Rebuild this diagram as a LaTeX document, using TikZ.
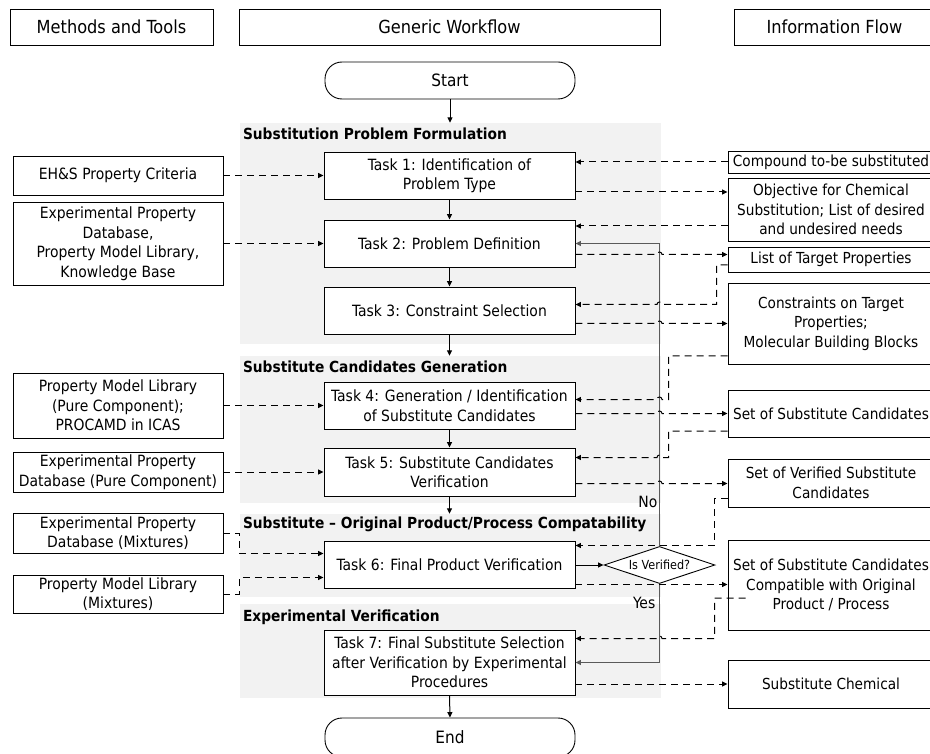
\documentclass[tikz,border=0pt]{standalone}
\usepackage{fontspec}
\setmainfont{DejaVu Sans Condensed}
\usetikzlibrary{shapes.geometric,arrows.meta,calc}

\definecolor{panelgray}{RGB}{242,242,242}
\definecolor{loopgray}{RGB}{90,90,90}

\tikzset{
  box/.style={draw=black, line width=0.9pt, fill=white, align=center, inner sep=0pt,
    font=\fontsize{15.5}{19.5}\selectfont},
  hdr/.style={box, font=\fontsize{18}{21}\selectfont},
  terminal/.style={draw=black, line width=0.9pt, fill=white, rounded corners=17pt,
    minimum width=250pt, minimum height=37pt, inner sep=0pt, font=\fontsize{17}{20}\selectfont},
  panel/.style={fill=panelgray, draw=none, inner sep=0pt, minimum width=421pt},
  seclabel/.style={inner sep=0pt, anchor=west, font=\bfseries\fontsize{15.3}{18}\selectfont},
  decision/.style={diamond, draw=black, line width=0.9pt, fill=white, aspect=3, inner sep=0pt,
    minimum width=111pt, minimum height=37pt, font=\fontsize{12.5}{14}\selectfont},
  branch/.style={inner sep=0pt, anchor=east, font=\fontsize{15.5}{17}\selectfont},
  tip/.style={-{Triangle[length=5.5pt,width=5pt]}},
  seq/.style={tip, line width=1pt},
  flow/.style={tip, line width=1pt, dash pattern=on 7pt off 5pt},
  loopline/.style={tip, line width=1.2pt, draw=loopgray},
  task/.style={box, minimum width=251pt, minimum height=47pt},
  tool/.style={box, minimum width=210pt},
  info/.style={box, minimum width=206pt, font=\fontsize{15.2}{19.5}\selectfont},
}

\begin{document}
\begin{tikzpicture}[x=1pt, y=-1pt]
\useasboundingbox (0,0) rectangle (930,754);
\clip (0,0) rectangle (930,754);

% column headers
\node[hdr, minimum width=203pt, minimum height=36pt] (hm) at (111.5,27) {Methods and Tools};
\node[hdr, minimum width=421pt, minimum height=36pt] (hg) at (449.5,27) {Generic Workflow};
\node[hdr, minimum width=201pt, minimum height=36pt] (hi) at (834.5,27) {Information Flow};

% grey stage panels
\node[panel, minimum height=221pt] (p1) at (450.5,233.5) {};
\node[panel, minimum height=147pt] (p2) at (450.5,429.5) {};
\node[panel, minimum height=83pt]  (p3) at (450.5,555.5) {};
\node[panel, minimum height=94pt]  (p4) at (450.5,651) {};
\node[seclabel] (p1l) at ($(p1.north west)+(3,11)$) {Substitution Problem Formulation};
\node[seclabel] (p2l) at ($(p2.north west)+(3,11)$) {Substitute Candidates Generation};
\node[seclabel] (p3l) at ($(p3.north west)+(3,11)$) {Substitute – Original Product/Process Compatability};
\node[seclabel] (p4l) at ($(p4.north west)+(3,13)$) {Experimental Verification};

% workflow
\node[terminal] (start) at (450,80.5) {Start};
\node[task] (t1) at (449.5,175.5) {Task 1: Identification of\\Problem Type};
\node[task] (t2) at (449.5,243.5) {Task 2: Problem Definition};
\node[task] (t3) at (449.5,310.5) {Task 3: Constraint Selection};
\node[task] (t4) at (449.5,405.5) {Task 4: Generation / Identification\\of Substitute Candidates};
\node[task, minimum height=48pt] (t5) at (449.5,472) {Task 5: Substitute Candidates\\Verification};
\node[task] (t6) at (449.5,565) {Task 6: Final Product Verification};
\node[task, minimum height=65pt] (t7) at (449.5,662.5) {Task 7: Final Substitute Selection\\after Verification by Experimental\\Procedures};
\node[terminal, minimum height=39pt] (end) at (450,737.5) {End};
\node[decision] (dec) at (659.5,565) {Is Verified?};

% methods and tools
\node[tool, minimum height=39pt] (m1) at (118,175.5) {EH\&S Property Criteria};
\node[tool, minimum height=83pt] (m2) at (118,243.5) {Experimental Property\\Database,\\Property Model Library,\\Knowledge Base};
\node[tool, minimum height=65pt] (m3) at (118,405.5) {Property Model Library\\(Pure Component);\\PROCAMD in ICAS};
\node[tool, minimum height=40pt] (m4) at (118,472) {Experimental Property\\Database (Pure Component)};
\node[tool, minimum height=40pt] (m5) at (118,533) {Experimental Property\\Database (Mixtures)};
\node[tool, minimum height=38pt] (m6) at (118,594) {Property Model Library\\(Mixtures)};

% information flow
\node[info, minimum height=22pt] (i1) at (831,162) {Compound to-be substituted};
\node[info, minimum height=63pt] (i2) at (831,209.5) {Objective for Chemical\\Substitution; List of desired\\and undesired needs};
\node[info, minimum height=25pt] (i3) at (831,259.5) {List of Target Properties};
\node[info, minimum height=81pt] (i4) at (831,323.5) {Constraints on Target\\Properties;\\Molecular Building Blocks};
\node[info, minimum height=47pt] (i5) at (831,413.5) {Set of Substitute Candidates};
\node[info, minimum height=48pt] (i6) at (831,483) {Set of Verified Substitute\\Candidates};
\node[info, minimum height=90pt] (i7) at (831,585) {Set of Substitute Candidates\\Compatible with Original\\Product / Process};
\node[info, minimum height=48pt] (i8) at (831,684) {Substitute Chemical};

% ports on the task boxes and information boxes
\coordinate (t1o) at ($(t1.east)+(0,16.5)$);
\coordinate (t2o) at ($(t2.east)+(0,11)$);
\coordinate (t3i) at ($(t3.east)+(0,-6)$);
\coordinate (t3o) at ($(t3.east)+(0,13)$);
\coordinate (t4i) at ($(t4.east)+(0,-6)$);
\coordinate (t4o) at ($(t4.east)+(0,8)$);
\coordinate (t5i) at ($(t5.east)+(0,-14.5)$);
\coordinate (t5o) at ($(t5.east)+(0,11.5)$);
\coordinate (t6i) at ($(t6.east)+(0,-19.5)$);
\coordinate (t6o) at ($(t6.east)+(0,19.5)$);
\coordinate (t6a) at ($(t6.west)+(0,-11.5)$);
\coordinate (t6b) at ($(t6.west)+(0,12.5)$);
\coordinate (t7i) at ($(t7.east)+(0,-24)$);
\coordinate (t7o) at ($(t7.east)+(0,21.5)$);
\coordinate (i2o) at ($(i2.west)+(0,16.5)$);
\coordinate (i3o) at ($(i3.west)+(0,5.5)$);
\coordinate (i4o) at ($(i4.west)+(0,32.5)$);
\coordinate (i5o) at ($(i5.west)+(0,17.5)$);
\coordinate (i6o) at ($(i6.west)+(0,15)$);
\coordinate (i7o) at ($(i7.west)+(18,13)$);

% elbow columns and line-jump positions
\coordinate (ka) at (716.5,0);
\coordinate (kb) at (668.5,0);
\coordinate (kc) at (714.5,0);
\coordinate (kd) at (239.5,0);
\coordinate (hl) at (657,0);
\coordinate (hr) at (662,0);

% main sequence
\draw[seq] (start.south) -- (start.south |- p1.north);
\draw[seq] (t1.south) -- (t2.north);
\draw[seq] (t2.south) -- (t3.north);
\draw[seq] (t3.south) -- (t3.south |- p2.north);
\draw[seq] (t4.south) -- (t5.north);
\draw[seq] (t5.south) -- (t5.south |- p3.north);
\draw[seq] (t7.south) -- (end.north);
\draw[seq] (t6.east) -- (dec.west);

% decision loops
\draw[loopline] (dec.north) -- (dec.north |- t2.east) -- (t2.east);
\draw[loopline] (dec.south) -- (dec.south |- t7.east) -- (t7.east);
\node[branch] (no) at ($(dec.north)+(-2,-44)$) {No};
\node[branch] (yes) at ($(dec.south)+(-4,19.5)$) {Yes};

% tools feeding the tasks
\draw[flow] (m1.east) -- (m1.east -| t1.west);
\draw[flow] (m2.east) -- (m2.east -| t2.west);
\draw[flow] (m3.east) -- (m3.east -| t4.west);
\draw[flow] (m4.east) -- (m4.east -| t5.west);
\draw[flow] (m5.east) -- (m5.east -| kd) -- (t6a -| kd) -- (t6a);
\draw[flow] (m6.east) -- (m6.east -| kd) -- (t6b -| kd) -- (t6b);

% information exchanged with the tasks
\draw[flow] (i1.west) -- (i1.west -| t1.east);
\draw[flow] (t1o) -- (t1o -| i2.west);
\draw[flow] (i2o) -- (i2o -| t2.east);
\draw[flow] (t2o) -- (t2o -| hl) arc[start angle=180,end angle=0,radius=2.5pt] -- (t2o -| i3.west);
\draw[flow] (i3o) -- (i3o -| ka) -- (t3i -| ka) -- (t3i -| hr) arc[start angle=0,end angle=180,radius=2.5pt] -- (t3i);
\draw[flow] (t3o) -- (t3o -| hl) arc[start angle=180,end angle=0,radius=2.5pt] -- (t3o -| i4.west);
\draw[flow] (i4o) -- (i4o -| kb) -- (t4i -| kb) -- (t4i -| hr) arc[start angle=0,end angle=180,radius=2.5pt] -- (t4i);
\draw[flow] (t4o) -- (t4o -| hl) arc[start angle=180,end angle=0,radius=2.5pt] -- (t4o -| i5.west);
\draw[flow] (i5o) -- (i5o -| kb) -- (t5i -| kb) -- (t5i -| hr) arc[start angle=0,end angle=180,radius=2.5pt] -- (t5i);
\draw[flow] (t5o) -- (t5o -| hl) arc[start angle=180,end angle=0,radius=2.5pt] -- (t5o -| i6.west);
\draw[flow] (i6o) -- (i6o -| kc) -- (t6i -| kc) -- (t6i);
\draw[flow] (t6o) -- (t6o -| i7.west);
\draw[flow] (i7o) -- (i7o -| kc) -- (t7i -| kc) -- (t7i -| hr) arc[start angle=0,end angle=180,radius=2.5pt] -- (t7i);
\draw[flow] (t7o) -- (t7o -| i8.west);
\end{tikzpicture}
\end{document}
